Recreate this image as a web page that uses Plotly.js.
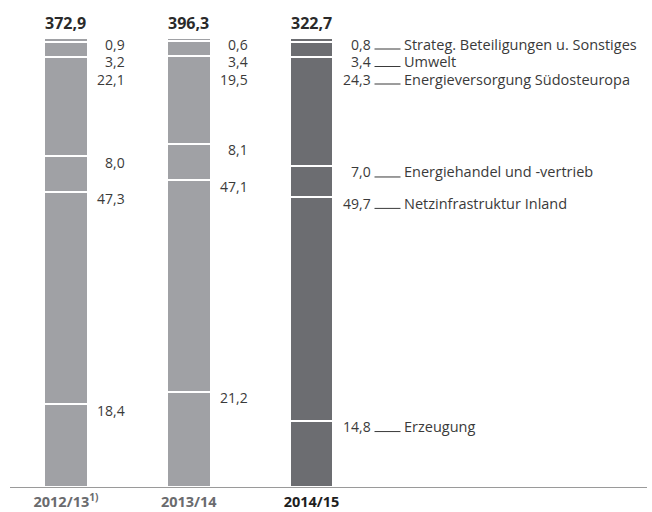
<!DOCTYPE html>
<html>
<head>
<meta charset="utf-8">
<script src="https://cdn.plot.ly/plotly-3.0.1.min.js"></script>
<style>
html,body{margin:0;padding:0;background:#fff;}
#chart{width:652px;height:512px;}
</style>
</head>
<body>
<div id="chart"></div>
<script>
// ---- data ----
const categories = ["2012/13", "2013/14", "2014/15"];
const tickLabels = ["2012/13<sup>1)</sup>", "2013/14", "2014/15"];
const totals = ["372,9", "396,3", "322,7"];
const segmentNames = [
  "Erzeugung",
  "Netzinfrastruktur Inland",
  "Energiehandel und -vertrieb",
  "Energieversorgung Südosteuropa",
  "Umwelt",
  "Strateg. Beteiligungen u. Sonstiges"
];
const erzeugung         = [18.4, 21.2, 14.8];
const netzinfrastruktur = [47.3, 47.1, 49.7];
const energiehandel     = [8.0, 8.1, 7.0];
const suedosteuropa     = [22.1, 19.5, 24.3];
const umwelt            = [3.2, 3.4, 3.4];
const sonstiges         = [0.9, 0.6, 0.8];
const series = [erzeugung, netzinfrastruktur, energiehandel, suedosteuropa, umwelt, sonstiges];

// ---- style ----
const barColors = ["#a0a1a5", "#a0a1a5", "#6c6d71"];
const font = "Open Sans, Noto Sans, sans-serif";
const textColor = "#3a3a3a";
const plotH = 449;          // plot area height in px
const pxPerUnit = plotH / 100;

const traces = series.map((vals, i) => ({
  type: "bar",
  x: categories,
  y: vals,
  name: segmentNames[i],
  width: 0.355,
  marker: {color: barColors, line: {color: "#ffffff", width: 2}},
  hoverinfo: "skip"
}));

const fmt = v => v.toFixed(1).replace(".", ",");

const annotations = [];
const shapes = [];
categories.forEach((cat, ci) => {
  let cum = 0;
  const tops = series.map(s => { cum += s[ci]; return cum; });
  let prev = -1e9;
  const labelY = [];
  for (let si = series.length - 1; si >= 0; si--) {
    const topPx = (100 - tops[si]) * pxPerUnit;
    const lp = Math.max(topPx + 6, prev + 17.5);
    prev = lp;
    labelY[si] = 100 - lp / pxPerUnit;
  }
  series.forEach((s, si) => {
    annotations.push({
      x: ci, y: labelY[si], xref: "x", yref: "y",
      text: fmt(s[ci]), showarrow: false, borderpad: 0,
      xanchor: "right", yanchor: "middle", xshift: 60,
      font: {family: font, size: 14, color: textColor}
    });
    if (ci === categories.length - 1) {
      annotations.push({
        x: ci, y: labelY[si], xref: "x", yref: "y",
        text: segmentNames[si], showarrow: false, borderpad: 0,
        xanchor: "left", yanchor: "middle", xshift: 91,
        font: {family: font, size: 14.5, color: textColor}
      });
      shapes.push({
        type: "line", xref: "x", yref: "y",
        xsizemode: "pixel", xanchor: ci, x0: 63, x1: 89,
        ysizemode: "pixel", yanchor: labelY[si], y0: -5, y1: -5,
        line: {color: "#3a3a3a", width: 1}
      });
    }
  });
  annotations.push({
    x: ci, y: tops[tops.length - 1], xref: "x", yref: "y",
    text: "<b>" + totals[ci] + "</b>", showarrow: false,
    xanchor: "center", yanchor: "middle", yshift: 15,
    font: {family: font, size: 16, color: "#2a2a2a"}
  });
});

const tickColors = ["#6a6b6e", "#6a6b6e", "#1e1e1e"];
const ticktext = tickLabels.map((t, i) => `<span style="color:${tickColors[i]}"><b>${t}</b></span>`);

const layout = {
  width: 652, height: 512,
  margin: {l: 10, r: 5, t: 38, b: 25},
  paper_bgcolor: "#ffffff", plot_bgcolor: "#ffffff",
  barmode: "stack",
  showlegend: false,
  xaxis: {
    type: "category",
    range: [-0.456, 4.733],
    tickvals: categories, ticktext: ticktext,
    showgrid: false, zeroline: false,
    showline: true, linecolor: "#9a9a9a", linewidth: 1,
    layer: "below traces",
    ticks: "", ticklen: 0,
    ticklabelstandoff: 2,
    tickfont: {family: font, size: 14.5, color: "#6a6b6e"},
    fixedrange: true
  },
  yaxis: {
    range: [0, 100], visible: false, showgrid: false, zeroline: false, fixedrange: true
  },
  annotations: annotations,
  shapes: shapes
};

Plotly.newPlot("chart", traces, layout, {displayModeBar: false, staticPlot: true});
</script>
</body>
</html>
